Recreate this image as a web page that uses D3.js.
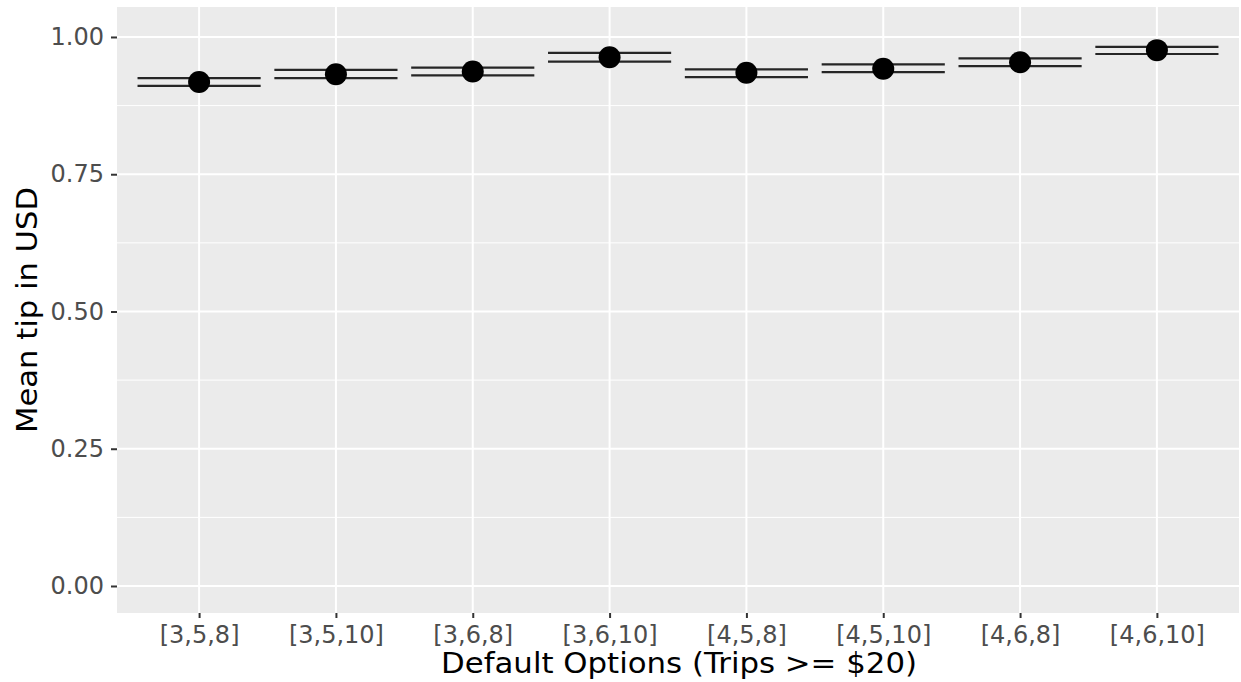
<!DOCTYPE html>
<html><head><meta charset="utf-8">
<script src="https://cdn.jsdelivr.net/npm/d3@7"></script>
<style>body{margin:0;background:#fff;}svg{display:block;font-family:"DejaVu Sans",sans-serif;}</style>
</head><body>
<svg id="chart" width="1241" height="682"></svg>
<script>
const categories = ["[3,5,8]","[3,5,10]","[3,6,8]","[3,6,10]","[4,5,8]","[4,5,10]","[4,6,8]","[4,6,10]"];
const meanTip = [0.918, 0.932, 0.937, 0.963, 0.935, 0.942, 0.954, 0.976];
const lowerCI = [0.911, 0.925, 0.930, 0.955, 0.927, 0.936, 0.947, 0.969];
const upperCI = [0.925, 0.940, 0.944, 0.971, 0.941, 0.950, 0.961, 0.982];
const yTicks = [0, 0.25, 0.5, 0.75, 1.0];
const yMinor = [0.125, 0.375, 0.625, 0.875];
const xTitle = "Default Options (Trips >= $20)";
const yTitle = "Mean tip in USD";

const svg = d3.select("#chart");
const P = {l:117, r:1239, t:7, b:613};
const x = d3.scalePoint().domain(categories).range([P.l, P.r]).padding(0.6);
const y = d3.scaleLinear().domain([-0.0492, 1.0546]).range([P.b, P.t]);
const step = x.step();

svg.append("rect").attr("x",P.l).attr("y",P.t).attr("width",P.r-P.l).attr("height",P.b-P.t).attr("fill","#ebebeb");
const g = svg.append("g");
g.selectAll(".minor").data(yMinor).join("line")
  .attr("x1",P.l).attr("x2",P.r).attr("y1",d=>y(d)).attr("y2",d=>y(d))
  .attr("stroke","#fff").attr("stroke-width",1);
g.selectAll(".majory").data(yTicks).join("line")
  .attr("x1",P.l).attr("x2",P.r).attr("y1",d=>y(d)).attr("y2",d=>y(d))
  .attr("stroke","#fff").attr("stroke-width",2);
g.selectAll(".majorx").data(categories).join("line")
  .attr("y1",P.t).attr("y2",P.b).attr("x1",d=>x(d)).attr("x2",d=>x(d))
  .attr("stroke","#fff").attr("stroke-width",2);

// axes
const yAxis = svg.append("g").attr("transform",`translate(${P.l},0)`)
  .call(d3.axisLeft(y).tickValues(yTicks).tickFormat(d3.format(".2f")).tickSize(6).tickPadding(7));
const xAxis = svg.append("g").attr("transform",`translate(0,${P.b})`)
  .call(d3.axisBottom(x).tickSize(5).tickPadding(8));
[yAxis,xAxis].forEach(a=>{
  a.select(".domain").remove();
  a.selectAll(".tick line").attr("stroke","#333").attr("stroke-width",2);
  a.selectAll(".tick text").attr("fill","#4d4d4d").style("font-size","24px").style("font-family","DejaVu Sans");
});

// error bars
const data = categories.map((c,i)=>({c, m:meanTip[i], lo:lowerCI[i], hi:upperCI[i]}));
const eb = svg.append("g");
const hw = step*0.45;
data.forEach(d=>{
  [d.lo,d.hi].forEach(v=>{
    eb.append("line").attr("x1",x(d.c)-hw).attr("x2",x(d.c)+hw).attr("y1",y(v)).attr("y2",y(v))
      .attr("stroke","#262626").attr("stroke-width",2.2);
  });
  eb.append("line").attr("x1",x(d.c)).attr("x2",x(d.c)).attr("y1",y(d.lo)).attr("y2",y(d.hi))
    .attr("stroke","#262626").attr("stroke-width",2.2);
});
svg.append("g").selectAll("circle").data(data).join("circle")
  .attr("cx",d=>x(d.c)).attr("cy",d=>y(d.m)).attr("r",11).attr("fill","#000");

svg.append("text").attr("x",(P.l+P.r)/2 + 1).attr("y",673).attr("text-anchor","middle")
  .attr("textLength",476).attr("lengthAdjust","spacingAndGlyphs")
  .style("font-size","28px").attr("fill","#000").text(xTitle);
svg.append("text").attr("transform",`translate(37,${(P.t+P.b)/2}) rotate(-90)`).attr("text-anchor","middle")
  .attr("textLength",246).attr("lengthAdjust","spacingAndGlyphs")
  .style("font-size","29px").attr("fill","#000").text(yTitle);
</script>
</body></html>
